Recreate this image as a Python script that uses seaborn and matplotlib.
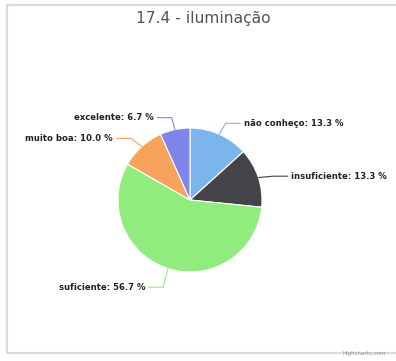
import numpy as np
import matplotlib
matplotlib.use("Agg")
import matplotlib.pyplot as plt
import seaborn as sns
from matplotlib.patches import Rectangle

sns.set_theme(style="white")
plt.rcParams['font.family'] = ['DejaVu Sans']

title = "17.4 - iluminação"
categories = ["não conheço", "insuficiente", "suficiente", "muito boa", "excelente"]
values = [13.3, 13.3, 56.7, 10.0, 6.7]
colors = sns.color_palette(["#7cb5ec", "#434348", "#90ed7d", "#f7a35c", "#8085e9"])

W, H = 396, 361
fig = plt.figure(figsize=(W / 100, H / 100), dpi=100)
fig.patch.set_facecolor("white")

# frame
fig.patches.append(Rectangle((7 / W, 8 / H), 1.2, (H - 13) / H, transform=fig.transFigure,
                             fill=False, edgecolor="#dcdcdc", linewidth=1.6, zorder=0))

ax = fig.add_axes([0, 0, 1, 1])
cx, cy, r = 190, 200, 72
ax.set_xlim(-cx / r, (W - cx) / r)
ax.set_ylim(-(H - cy) / r, cy / r)
ax.set_aspect("equal")
ax.axis("off")

wedges, _ = ax.pie(values, colors=colors, startangle=90, counterclock=False,
                   radius=1.0, center=(0, 0),
                   wedgeprops=dict(edgecolor="white", linewidth=0.8))
ax.set_xlim(-cx / r, (W - cx) / r)
ax.set_ylim(-(H - cy) / r, cy / r)

for w, cat, v, col in zip(wedges, categories, values, colors):
    ang = np.deg2rad((w.theta1 + w.theta2) / 2)
    dx, dy = np.cos(ang), np.sin(ang)
    x0, y0 = 1.0 * dx, 1.0 * dy
    ex, ey = 1.22 * dx, 1.22 * dy - 0.05
    side = 1 if dx >= 0 else -1
    hx = ex + side * 0.2
    ax.plot([x0, ex, hx], [y0, ey, ey], color=col, lw=0.8, solid_capstyle="round")
    ax.text(hx + side * 0.05, ey, f"{cat}: {v:.1f} %", ha="left" if side > 0 else "right",
            va="center", fontsize=6.1, fontweight="bold", color="#222222")

fig.text(203 / W, 1 - 18 / H, title, ha="center", va="center", fontsize=11.2, color="#555555")
fig.text(386 / W, 1 - 353 / H, "Highcharts.com", ha="right", va="center", fontsize=4, color="#999999")

fig.savefig("out.png", dpi=100)
